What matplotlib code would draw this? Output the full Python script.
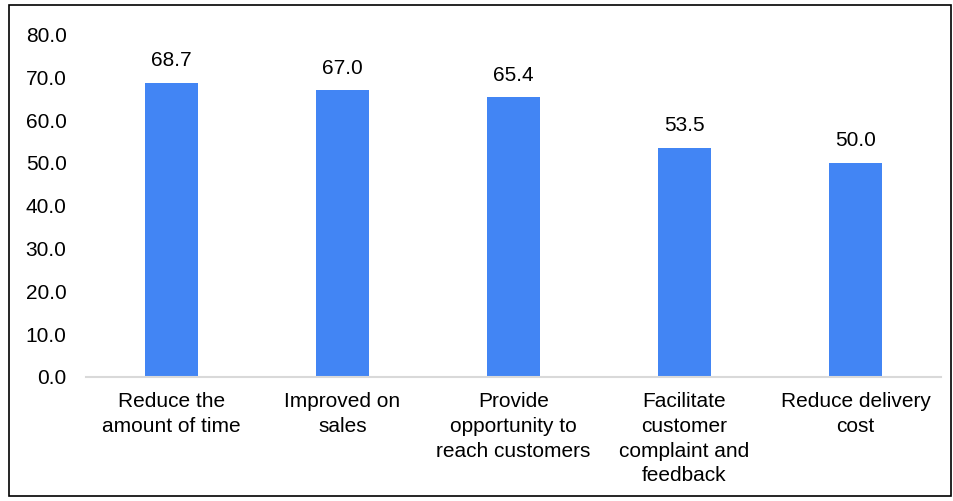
import matplotlib.pyplot as plt
from matplotlib.patches import Rectangle

categories = ["Reduce the\namount of time", "Improved on\nsales",
              "Provide\nopportunity to\nreach customers",
              "Facilitate\ncustomer\ncomplaint and\nfeedback",
              "Reduce delivery\ncost"]
values = [68.7, 67.0, 65.4, 53.5, 50.0]

plt.rcParams['font.family'] = ['Liberation Sans', 'DejaVu Sans']

fig = plt.figure(figsize=(9.54, 5.01), dpi=100)
ax = fig.add_axes([86/954, 1-377/501, (941-86)/954, (377-34.5)/501])

x = range(len(categories))
bars = ax.bar(x, values, width=0.315, color="#4285F4")
for b, v in zip(bars, values):
    ax.annotate(f"{v:.1f}", (b.get_x() + b.get_width()/2, v), xytext=(0, 9),
                textcoords="offset points", ha="center", va="bottom", fontsize=15)

ax.set_xlim(-0.5, len(categories) - 0.5)
ax.set_ylim(0, 80)
ax.set_yticks(range(0, 81, 10))
ax.set_yticklabels([f"{t:.1f}" for t in range(0, 81, 10)])
ax.set_xticks(list(x))
ax.set_xticklabels(categories, linespacing=1.38, va="top")
ax.tick_params(axis="both", length=0, labelsize=15)
ax.tick_params(axis="x", pad=11)
ax.tick_params(axis="y", pad=14)
for s in ["top", "right", "left"]:
    ax.spines[s].set_visible(False)
ax.spines["bottom"].set_color("#d9d9d9")
ax.spines["bottom"].set_linewidth(1.5)

fig.patches.append(Rectangle((9/954, 5/501), 942/954, 491/501, transform=fig.transFigure,
                             fill=False, edgecolor="black", linewidth=1.2))

fig.savefig("out.png", dpi=100)
